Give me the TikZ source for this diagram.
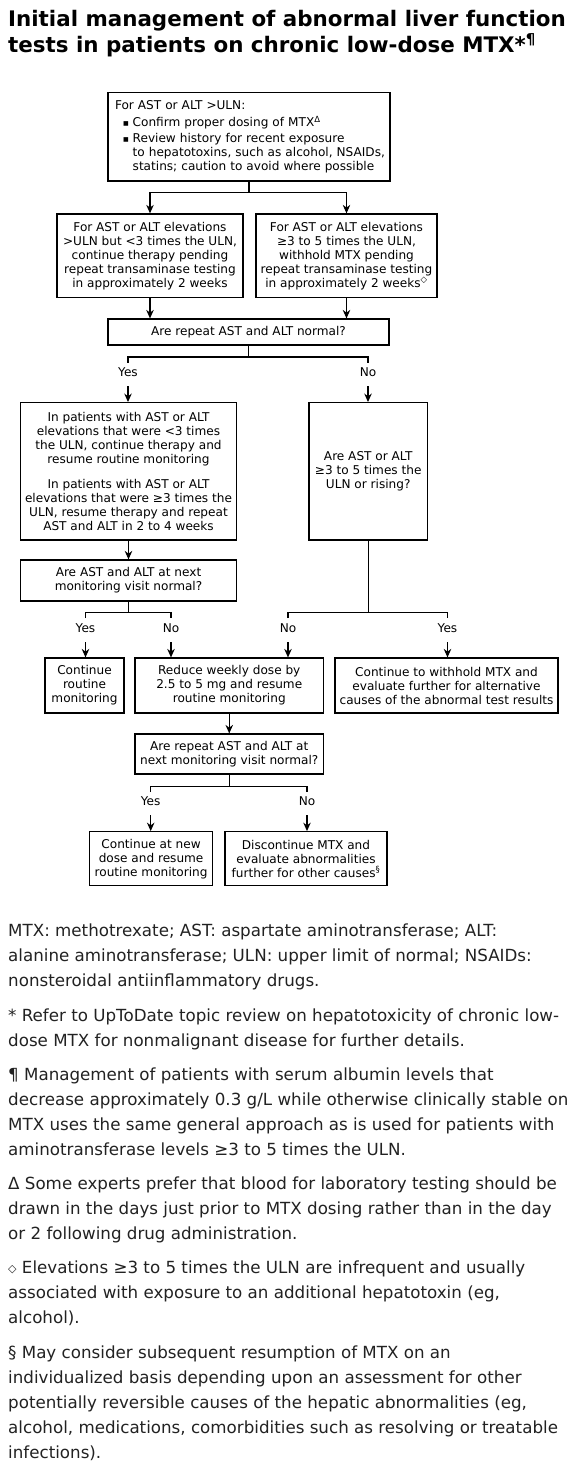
\documentclass[tikz,border=0pt]{standalone}
\usepackage{fontspec}
\setmainfont{DejaVu Sans}
\usetikzlibrary{arrows.meta}
\newcommand\bxf{\fontsize{12.1}{14}\selectfont}
\newcommand\fnf{\fontsize{16.7}{25}\selectfont}
\newcommand\ttlf{\fontsize{21.4}{26}\selectfont\bfseries}
\newcommand\bul{\hspace*{8pt}\makebox[9.7pt][l]{\raisebox{1.2pt}{\fontsize{6}{6}\selectfont■}}}
\definecolor{fntext}{HTML}{222222}
\begin{document}
\begin{tikzpicture}[x=1pt,y=-1pt,
  box/.style={draw=black, line width=1.2pt, align=center, inner sep=1pt, font=\bxf},
  lbl/.style={font=\bxf, inner sep=0pt, text height=8.6pt, text depth=2.8pt, minimum height=24pt},
  conn/.style={line width=1.1pt},
  arr/.style={conn, -{Stealth[length=8.5pt,width=7.5pt]}},
  fn/.style={anchor=base west, inner sep=0pt, font=\fnf, text=fntext},
  ttl/.style={anchor=base west, inner sep=0pt, font=\ttlf}]
\useasboundingbox (0,0) rectangle (566,1468);
\fill[white] (0,0) rectangle (566,1468);

% title
\node[ttl] (t1) at (8,26) {Initial management of abnormal liver function};
\node[ttl] (t2) at (8,52) {tests in patients on chronic low-dose MTX*\textsuperscript{¶}};

% boxes
\node[box, align=left, text width=268pt, inner xsep=7pt, minimum height=88.7pt] (b1) at (249,136.7)
 {\mbox{For AST or ALT >ULN:}\\[3pt]
  \mbox{\bul Confirm proper dosing of MTX\textsuperscript{Δ}}\\[2pt]
  \mbox{\bul Review history for recent exposure}\\
  \mbox{\hspace*{17.7pt}to hepatotoxins, such as alcohol, NSAIDs,}\\
  \mbox{\hspace*{17.7pt}statins; caution to avoid where possible}};
\node[box, minimum width=186pt, minimum height=83.5pt] (b2) at (150,255.7)
 {For AST or ALT elevations\\>ULN but <3 times the ULN,\\continue therapy pending\\repeat transaminase testing\\in approximately 2 weeks};
\node[box, minimum width=181pt, minimum height=83.5pt] (b3) at (346.5,255.7)
 {For AST or ALT elevations\\≥3 to 5 times the ULN,\\withhold MTX pending\\repeat transaminase testing\\in approximately 2 weeks\textsuperscript{◇}};
\node[box, minimum width=281pt, minimum height=26pt] (b4) at (248.5,332)
 {Are repeat AST and ALT normal?};
\node[box, minimum width=216.4pt, minimum height=137.3pt] (b5) at (128.5,471.3)
 {In patients with AST or ALT\\elevations that were <3 times\\the ULN, continue therapy and\\resume routine monitoring\\[11pt]
  In patients with AST or ALT\\elevations that were ≥3 times the\\ULN, resume therapy and repeat\\AST and ALT in 2 to 4 weeks};
\node[box, minimum width=118.5pt, minimum height=137.3pt] (b6) at (368.2,471.3)
 {Are AST or ALT\\≥3 to 5 times the\\ULN or rising?};
\node[box, minimum width=216.4pt, minimum height=41pt] (b7) at (128.5,580.5)
 {Are AST and ALT at next\\monitoring visit normal?};
\node[box, minimum width=79pt, minimum height=55pt] (b8) at (84.5,685.5)
 {Continue\\routine\\monitoring};
\node[box, minimum width=188.5pt, minimum height=55pt] (b9) at (229.25,685.5)
 {Reduce weekly dose by\\2.5 to 5 mg and resume\\routine monitoring};
\node[box, minimum width=223pt, minimum height=55pt] (b10) at (446.5,685.5)
 {Continue to withhold MTX and\\evaluate further for alternative\\causes of the abnormal test results};
\node[box, minimum width=188.5pt, minimum height=40pt] (b11) at (229.25,754)
 {Are repeat AST and ALT at\\next monitoring visit normal?};
\node[box, minimum width=123.2pt, minimum height=54pt] (b12) at (151.1,858.7)
 {Continue at new\\dose and resume\\routine monitoring};
\node[box, minimum width=162pt, minimum height=54pt] (b13) at (306,858.7)
 {Discontinue MTX and\\evaluate abnormalities\\further for other causes\textsuperscript{§}};

% connectors box1 -> box2/box3
\coordinate (h1) at (0,192.7);
\draw[arr] (b1.south) -- (b1.south |- h1) -| (b2.north);
\draw[arr] (b1.south) -- (b1.south |- h1) -| (b3.north);
\draw[arr] (b2.south) -- (b2.south |- b4.north);
\draw[arr] (b3.south) -- (b3.south |- b4.north);

% box4 branch
\coordinate (h4) at (0,357);
\coordinate (k4) at (0,362.7);
\node[lbl] (y1) at (128,374) {Yes};
\node[lbl] (n1) at (368,374) {No};
\draw[conn] (b4.south) -- (b4.south |- h4);
\draw[conn] (y1 |- k4) -- (y1 |- h4) -- (n1 |- h4) -- (n1 |- k4);
\draw[arr] (y1) -- (y1 |- b5.north);
\draw[arr] (n1) -- (n1 |- b6.north);

\draw[arr] (b5.south) -- (b5.south |- b7.north);

% box7 branch
\coordinate (h7) at (0,612.7);
\coordinate (k7) at (0,618);
\node[lbl] (y2) at (85.5,630) {Yes};
\node[lbl] (n2) at (171,630) {No};
\draw[conn] (b7.south) -- (b7.south |- h7);
\draw[conn] (y2 |- k7) -- (y2 |- h7) -- (n2 |- h7) -- (n2 |- k7);
\draw[arr] (y2) -- (y2 |- b8.north);
\draw[arr] (n2) -- (n2 |- b9.north);

% box6 branch
\node[lbl] (n3) at (288,630) {No};
\node[lbl] (y3) at (447.5,630) {Yes};
\draw[conn] (b6.south) -- (b6.south |- h7);
\draw[conn] (n3 |- k7) -- (n3 |- h7) -- (y3 |- h7) -- (y3 |- k7);
\draw[arr] (n3) -- (n3 |- b9.north);
\draw[arr] (y3) -- (y3 |- b10.north);

\draw[arr] (b9.south) -- (b9.south |- b11.north);

% box11 branch
\coordinate (h11) at (0,786.7);
\coordinate (k11) at (0,792);
\node[lbl] (y4) at (150.7,803) {Yes};
\node[lbl] (n4) at (307,803) {No};
\draw[conn] (b11.south) -- (b11.south |- h11);
\draw[conn] (y4 |- k11) -- (y4 |- h11) -- (n4 |- h11) -- (n4 |- k11);
\draw[arr] (y4) -- (y4 |- b12.north);
\draw[arr] (n4) -- (n4 |- b13.north);

% footnotes
\node[fn] (f1) at (8,936.5) {MTX: methotrexate; AST: aspartate aminotransferase; ALT:};
\node[fn] (f2) at (8,961.5) {alanine aminotransferase; ULN: upper limit of normal; NSAIDs:};
\node[fn] (f3) at (8,986.5) {nonsteroidal antiinflammatory drugs.};
\node[fn] (f4) at (8,1021.5) {* Refer to UpToDate topic review on hepatotoxicity of chronic low-};
\node[fn] (f5) at (8,1046.5) {dose MTX for nonmalignant disease for further details.};
\node[fn] (f6) at (8,1080.5) {¶ Management of patients with serum albumin levels that};
\node[fn] (f7) at (8,1105.5) {decrease approximately 0.3 g/L while otherwise clinically stable on};
\node[fn] (f8) at (8,1130.5) {MTX uses the same general approach as is used for patients with};
\node[fn] (f9) at (8,1155.5) {aminotransferase levels ≥3 to 5 times the ULN.};
\node[fn] (f10) at (8,1189.5) {Δ Some experts prefer that blood for laboratory testing should be};
\node[fn] (f11) at (8,1214.5) {drawn in the days just prior to MTX dosing rather than in the day};
\node[fn] (f12) at (8,1239.5) {or 2 following drug administration.};
\node[fn] (f13) at (8,1273.5) {{\fontsize{11}{11}\selectfont\raisebox{1pt}{◇}} Elevations ≥3 to 5 times the ULN are infrequent and usually};
\node[fn] (f14) at (8,1298.5) {associated with exposure to an additional hepatotoxin (eg,};
\node[fn] (f15) at (8,1323.5) {alcohol).};
\node[fn] (f16) at (8,1358.5) {§ May consider subsequent resumption of MTX on an};
\node[fn] (f17) at (8,1383.5) {individualized basis depending upon an assessment for other};
\node[fn] (f18) at (8,1408.5) {potentially reversible causes of the hepatic abnormalities (eg,};
\node[fn] (f19) at (8,1433.5) {alcohol, medications, comorbidities such as resolving or treatable};
\node[fn] (f20) at (8,1458.5) {infections).};
\end{tikzpicture}
\end{document}
